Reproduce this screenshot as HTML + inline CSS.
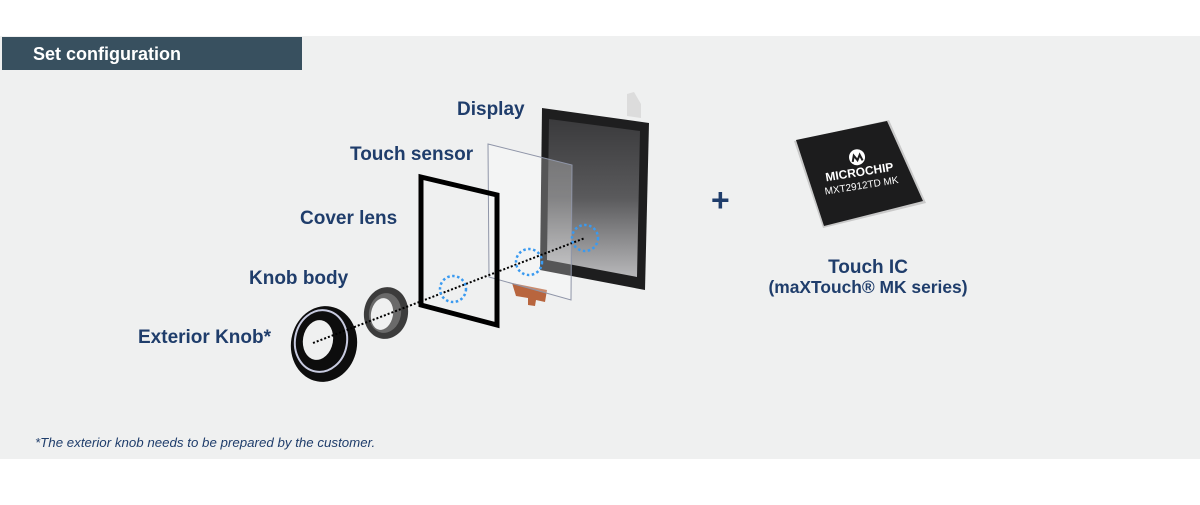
<!DOCTYPE html>
<html><head><meta charset="utf-8"><style>
body{margin:0;width:1200px;height:500px;background:#fff;overflow:hidden;font-family:"Liberation Sans",Arial,sans-serif}
</style></head><body>
<svg width="1200" height="500" viewBox="0 0 1200 500" xmlns="http://www.w3.org/2000/svg" font-family="Liberation Sans, Arial, sans-serif">
<defs>
<linearGradient id="scr" x1="0" y1="0" x2="0" y2="1">
<stop offset="0" stop-color="#3a3a3c"/><stop offset="0.5" stop-color="#5a5a5c"/><stop offset="1" stop-color="#b8b8ba"/>
</linearGradient>
</defs>
<rect x="0" y="36" width="1200" height="423" fill="#eff0f0"/>
<rect x="2" y="37" width="300" height="33" fill="#38505f"/>
<text x="33" y="60" font-size="18" font-weight="bold" fill="#fff">Set configuration</text>

<polygon points="627,94 634,92 641,104 641,118 627,116" fill="#dcdcdc"/>
<polygon points="542,108 649,123 645,290 540,270" fill="#1e1e1f"/>
<polygon points="549,119 640,131 637,277 547,260" fill="url(#scr)"/>
<polygon points="512,283 547,290 545,302 536,300 535,306 528,305 528,298 516,296" fill="#b8653e"/>
<polygon points="488,144 572,165 571,300 489,277" fill="rgba(255,255,255,0.25)" stroke="#8f95a8" stroke-width="1"/>
<polygon points="421,177 497,195 497,325 421,305" fill="none" stroke="#000" stroke-width="5"/>

<!-- knob body -->
<ellipse cx="386" cy="313" rx="22" ry="26" transform="rotate(10 386 313)" fill="#3c3c3c"/>
<ellipse cx="385" cy="313" rx="16" ry="20" transform="rotate(10 385 313)" fill="#6a6a6a"/>
<ellipse cx="382" cy="314" rx="11" ry="16" transform="rotate(10 382 314)" fill="#eff0f0"/>
<!-- exterior knob -->
<ellipse cx="324" cy="344" rx="33" ry="38" transform="rotate(10 324 344)" fill="#0d0d0d"/>
<ellipse cx="321" cy="341" rx="26" ry="31" transform="rotate(10 321 341)" fill="none" stroke="#c8cbe0" stroke-width="2"/>
<ellipse cx="318" cy="340" rx="15" ry="20" transform="rotate(10 318 340)" fill="#eff0f0"/>

<line x1="313" y1="343" x2="585" y2="238" stroke="#000" stroke-width="2" stroke-dasharray="2,2"/>
<g fill="none" stroke="#3a9af0" stroke-width="2.5" stroke-dasharray="2.5,2.5">
<circle cx="453" cy="289" r="13"/>
<circle cx="529" cy="262" r="13"/>
<circle cx="585" cy="238" r="13"/>
</g>

<g font-weight="bold" font-size="19" fill="#1f3d6b">
<text x="457" y="115">Display</text>
<text x="350" y="160">Touch sensor</text>
<text x="300" y="224">Cover lens</text>
<text x="249" y="284">Knob body</text>
<text x="138" y="343">Exterior Knob*</text>
<text x="711" y="211" font-size="32">+</text>
<text x="868" y="273" text-anchor="middle">Touch IC</text>
<text x="868" y="293" text-anchor="middle" font-size="17.4">(maXTouch® MK series)</text>
</g>

<polygon points="794,141 889,120 926,203 823,228" fill="#c9c9c9"/>
<polygon points="796,140 887,121 923,201 824,226" fill="#1c1c1d"/>
<g transform="translate(860 176) rotate(-9)">
<circle cx="0" cy="-19" r="8" fill="#fff"/>
<path d="M-5,-15 L-3,-21 L0,-16 L3,-21 L5,-15" stroke="#1c1c1d" stroke-width="2" fill="none"/>
<text x="0" y="0" text-anchor="middle" font-size="12" font-weight="bold" fill="#fff">MICROCHIP</text>
<text x="0" y="13" text-anchor="middle" font-size="10" fill="#fff">MXT2912TD MK</text>
</g>

<text x="35" y="447" font-size="13.3" font-style="italic" fill="#1f3d6b">*The exterior knob needs to be prepared by the customer.</text>
</svg>
</body></html>
